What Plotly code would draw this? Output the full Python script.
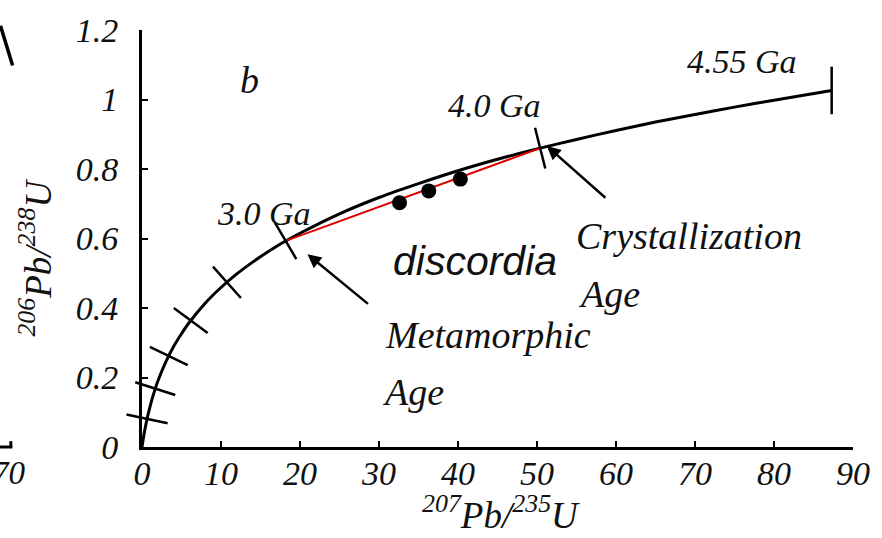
import numpy as np
import plotly.graph_objects as go

# Concordia curve (207Pb/235U vs 206Pb/238U)
conc_x = [0, 0.25, 0.5, 1, 1.5, 2, 3, 4, 5, 6, 8, 10, 12, 14, 17, 20, 25, 30,
          35, 40, 45, 50, 55, 60, 65, 70, 75, 80, 87.3]
conc_y = [0, 0.036, 0.066, 0.115, 0.155, 0.189, 0.244, 0.289, 0.326, 0.359,
          0.414, 0.459, 0.498, 0.532, 0.577, 0.615, 0.671, 0.718, 0.758, 0.795,
          0.828, 0.858, 0.885, 0.911, 0.935, 0.957, 0.978, 0.998, 1.026]

# Age marks along the concordia (0.5 ... 4.0 Ga)
tick_ages = [0.5, 1.0, 1.5, 2.0, 2.5, 3.0, 4.0]
tick_x = [0.64, 1.68, 3.39, 6.17, 10.75, 18.19, 50.4]
tick_y = [0.081, 0.168, 0.262, 0.364, 0.474, 0.593, 0.860]

# End of the curve (4.55 Ga)
end_x = [87.3]
end_y = [1.026]

# Discordia chord between metamorphic and crystallization ages
disc_x = [18.19, 50.4]
disc_y = [0.593, 0.860]

# Measured zircon analyses
sample_x = [32.6, 36.3, 40.3]
sample_y = [0.703, 0.737, 0.771]

x_ticks = [0, 10, 20, 30, 40, 50, 60, 70, 80, 90]
y_ticks = [0, 0.2, 0.4, 0.6, 0.8, 1.0, 1.2]
y_labels = ["0", "0.2", "0.4", "0.6", "0.8", "1", "1.2"]

W, H = 882, 538
ML, MR, MT, MB = 142, 27, 23, 91
X_RANGE = [0, 90]
Y_RANGE = [0, 1.2]

SERIF = "Liberation Serif"
INK = "#111111"

# orientation of the age marks: perpendicular to the curve on screen
px_per_x = (W - ML - MR) / (X_RANGE[1] - X_RANGE[0])
px_per_y = (H - MT - MB) / (Y_RANGE[1] - Y_RANGE[0])
slope = np.interp(tick_x, conc_x, np.gradient(np.array(conc_y), np.array(conc_x)))
mark_angle = -np.degrees(np.arctan(slope * px_per_y / px_per_x))

fig = go.Figure()

fig.add_trace(go.Scatter(
    x=conc_x, y=conc_y, mode="lines",
    line=dict(color="black", width=3, shape="spline", smoothing=0.6),
    cliponaxis=False, showlegend=False, hoverinfo="skip"))

fig.add_trace(go.Scatter(
    x=disc_x, y=disc_y, mode="lines",
    line=dict(color="#e00000", width=2),
    cliponaxis=False, showlegend=False, hoverinfo="skip"))

fig.add_trace(go.Scatter(
    x=tick_x, y=tick_y, mode="markers", text=[f"{a} Ga" for a in tick_ages],
    marker=dict(symbol="line-ns", size=30, angle=list(mark_angle),
                line=dict(color="black", width=2.5)),
    cliponaxis=False, showlegend=False))

fig.add_trace(go.Scatter(
    x=end_x, y=end_y, mode="markers",
    marker=dict(symbol="line-ns", size=34, line=dict(color="black", width=2.5)),
    cliponaxis=False, showlegend=False))

fig.add_trace(go.Scatter(
    x=sample_x, y=sample_y, mode="markers",
    marker=dict(symbol="circle", size=15, color="black"),
    cliponaxis=False, showlegend=False))


def label(text, x, y, size=36, family=SERIF, style="italic"):
    fig.add_annotation(x=x, y=y, text=text, showarrow=False,
                       xanchor="center", yanchor="middle",
                       font=dict(family=family, size=size, color=INK, style=style))


label("b", 13.6, 1.056, size=38)
label("4.55 Ga", 75.9, 1.109, size=34)
label("4.0 Ga", 44.6, 0.982, size=34)
label("3.0 Ga", 15.5, 0.671, size=34)
label("Crystallization", 69.3, 0.607, size=38)
label("Age", 59.1, 0.440, size=38)
label("Metamorphic", 43.8, 0.322, size=38)
label("Age", 34.3, 0.158, size=38)
label("discordia", 42.2, 0.535, size=41, family="Liberation Sans")


def arrow(x, y, ax, ay):
    fig.add_annotation(x=x, y=y, ax=ax, ay=ay, text="", showarrow=True,
                       arrowhead=2, arrowsize=1.1, arrowwidth=2.5,
                       arrowcolor="black", standoff=0)


arrow(37.4, 1.203, 80, 64)
arrow(20.95, 0.555, 62, 51)
arrow(51.25, 0.866, 60, 53)

# axis titles
fig.add_annotation(xref="paper", yref="paper", x=0.505, y=-0.158,
                   text="<sup>207</sup>Pb/<sup>235</sup>U", showarrow=False,
                   xanchor="center", yanchor="middle",
                   font=dict(family=SERIF, size=37, color=INK, style="italic"))
fig.add_annotation(xref="paper", yref="paper", x=-0.15, y=0.455,
                   text="<sup>206</sup>Pb/<sup>238</sup>U", showarrow=False,
                   textangle=-90, xanchor="center", yanchor="middle",
                   font=dict(family=SERIF, size=37, color=INK, style="italic"))

# edge of the neighbouring panel
fig.add_shape(type="line", xref="paper", yref="paper",
              x0=-0.199, y0=1.01, x1=-0.182, y1=0.915,
              line=dict(color="black", width=3.5))
fig.add_shape(type="line", xref="paper", yref="paper",
              x0=-0.2, y0=0.0, x1=-0.1823, y1=0.0,
              line=dict(color="black", width=3))
fig.add_shape(type="line", xref="paper", yref="paper",
              x0=-0.1845, y0=0.0, x1=-0.1845, y1=0.014,
              line=dict(color="black", width=3))
fig.add_annotation(xref="paper", yref="paper", x=-0.161, y=-0.062,
                   text="70", showarrow=False, xanchor="right", yanchor="middle",
                   font=dict(family=SERIF, size=33, color=INK, style="italic"))

axis_common = dict(showline=True, linecolor="black", linewidth=3,
                   ticks="inside", ticklen=6, tickwidth=2, tickcolor="black",
                   showgrid=False, zeroline=False,
                   tickfont=dict(family=SERIF, size=34, color=INK, style="italic"))

fig.update_xaxes(range=X_RANGE, tickvals=x_ticks, ticklabelstandoff=-6,
                 **axis_common)
fig.update_yaxes(range=Y_RANGE, tickvals=y_ticks, ticktext=y_labels,
                 ticklabelstandoff=14, **axis_common)

fig.update_layout(width=W, height=H,
                  margin=dict(l=ML, r=MR, t=MT, b=MB),
                  paper_bgcolor="white", plot_bgcolor="white",
                  showlegend=False)

fig.write_html("out.html")
